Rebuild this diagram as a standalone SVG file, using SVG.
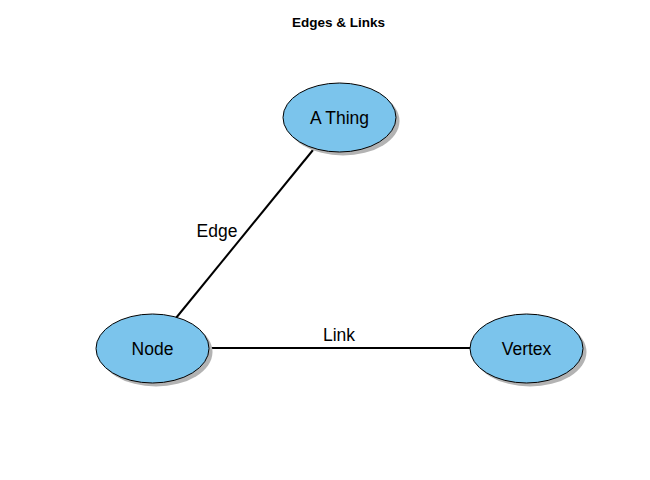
<svg xmlns="http://www.w3.org/2000/svg" width="650" height="480" viewBox="0 0 650 480">
<defs>
<style>
.shadow{fill:#b3b3b3;stroke:none}
.node{fill:#7bc4ec;stroke:#000;stroke-width:1}
.lbl{font-family:"Liberation Sans",Arial,sans-serif;font-size:17.5px;fill:#000;text-anchor:middle}
.edge{stroke:#000;stroke-width:2;fill:none}
.title{font-family:"Liberation Sans",Arial,sans-serif;font-size:13.5px;font-weight:bold;text-anchor:middle}
</style>
</defs>
<rect width="650" height="480" fill="#fff"/>
<text class="title" x="338.5" y="27">Edges &amp; Links</text>
<g id="connectors">
<line class="edge" x1="176" y1="318" x2="313" y2="150"/>
<line class="edge" x1="211" y1="348" x2="470" y2="348"/>
<text class="lbl" x="217" y="237">Edge</text>
<text class="lbl" x="339" y="341">Link</text>
</g>
<g id="athing">
<ellipse class="shadow" cx="343" cy="121" rx="56.5" ry="34.5"/>
<ellipse class="node" cx="339.5" cy="117.5" rx="56.5" ry="34.5"/>
<text class="lbl" x="339.5" y="124">A Thing</text>
</g>
<g id="node">
<ellipse class="shadow" cx="156" cy="352" rx="56.5" ry="34.5"/>
<ellipse class="node" cx="152.5" cy="348.5" rx="56.5" ry="34.5"/>
<text class="lbl" x="152.5" y="355">Node</text>
</g>
<g id="vertex">
<ellipse class="shadow" cx="530" cy="352" rx="56.5" ry="34.5"/>
<ellipse class="node" cx="526.5" cy="348.5" rx="56.5" ry="34.5"/>
<text class="lbl" x="526.5" y="355">Vertex</text>
</g>
</svg>
